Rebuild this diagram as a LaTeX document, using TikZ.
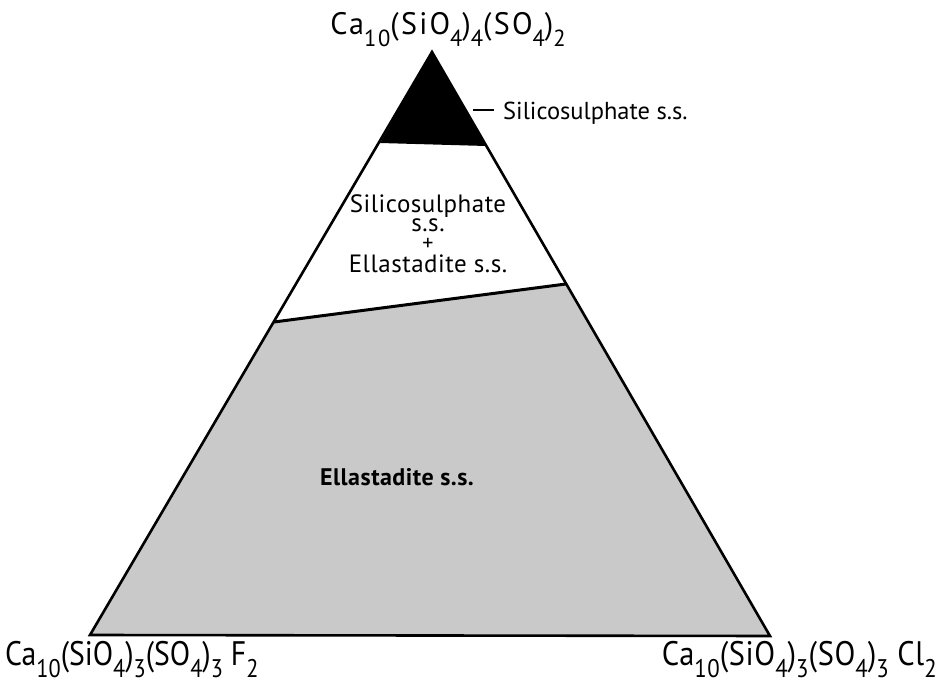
\documentclass[tikz,border=0pt]{standalone}
\usepackage{fontspec}
\setmainfont{PT Sans}
\newfontfamily\topfont{PT Sans}[LetterSpace=7.5]
\newfontfamily\leftfont{PT Sans}[LetterSpace=0]
\newfontfamily\rightfont{PT Sans}[LetterSpace=2]
\newfontfamily\labfont{PT Sans}[LetterSpace=2]
\newfontfamily\sidefont{PT Sans}[LetterSpace=0]
\newcommand\dn[1]{\raisebox{-0.36em}{\scalebox{0.75}{#1}}}
\begin{document}
\begin{tikzpicture}[x=1pt,y=-1pt,
  formula/.style={inner sep=0pt},
  lab/.style={inner sep=0pt, font=\labfont\fontsize{25}{19}\selectfont},
  sidelab/.style={inner sep=0pt, font=\sidefont\fontsize{24.5}{30}\selectfont},
  boldlab/.style={inner sep=0pt, font=\labfont\bfseries\fontsize{24}{30}\selectfont},
  edge/.style={line width=2.6pt, line join=miter},
  phaseline/.style={line width=3pt, line cap=round}]
\useasboundingbox (0,0) rectangle (946,684);
% corners and phase boundaries
\coordinate (A) at (432,52);
\coordinate (B) at (90,635);
\coordinate (C) at (770,636);
\coordinate (P1) at (380,143);
\coordinate (P2) at (486,146);
\coordinate (Q1) at (274,322);
\coordinate (Q2) at (566,284);
% regions
\fill[black!21] (Q1) -- (B) -- (C) -- (Q2) -- cycle;
\fill[black] (A) -- (P1) -- (P2) -- cycle;
\draw[edge] (A) -- (B) -- (C) -- cycle;
\draw[phaseline] (Q1) -- (Q2);
% labels
\node[formula, font=\topfont\fontsize{31}{36}\selectfont, anchor=base] (top) at (448,35)
  {\scalebox{0.97}[1]{Ca\dn{10}(SiO\dn{4})\dn{4}(SO\dn{4})\dn{2}}};
\node[formula, font=\leftfont\fontsize{34}{40}\selectfont, anchor=base west] (left) at (5,665)
  {\scalebox{0.875}[1]{Ca\dn{10}(SiO\dn{4})\dn{3}(SO\dn{4})\dn{3} F\dn{2}}};
\node[formula, font=\rightfont\fontsize{34}{40}\selectfont, anchor=base east] (right) at (937,665)
  {\scalebox{0.895}[1]{Ca\dn{10}(SiO\dn{4})\dn{3}(SO\dn{4})\dn{3} Cl\dn{2}}};
\coordinate (d1) at (473,110);
\node[sidelab, anchor=base west] (ss) at (503,120) {Silicosulphate s.s.};
\draw[line width=1.6pt, shorten >=9pt] (d1) -- (d1 -| ss.west);
\node[lab, anchor=base, align=center] (mid) at (428,273)
  {Silicosulphate\\ s.s.\\ {\fontsize{22}{19}\selectfont +}\\[3pt] Ellastadite s.s.};
\node[boldlab, anchor=base] (ell) at (397,486) {Ellastadite s.s.};
\end{tikzpicture}
\end{document}
